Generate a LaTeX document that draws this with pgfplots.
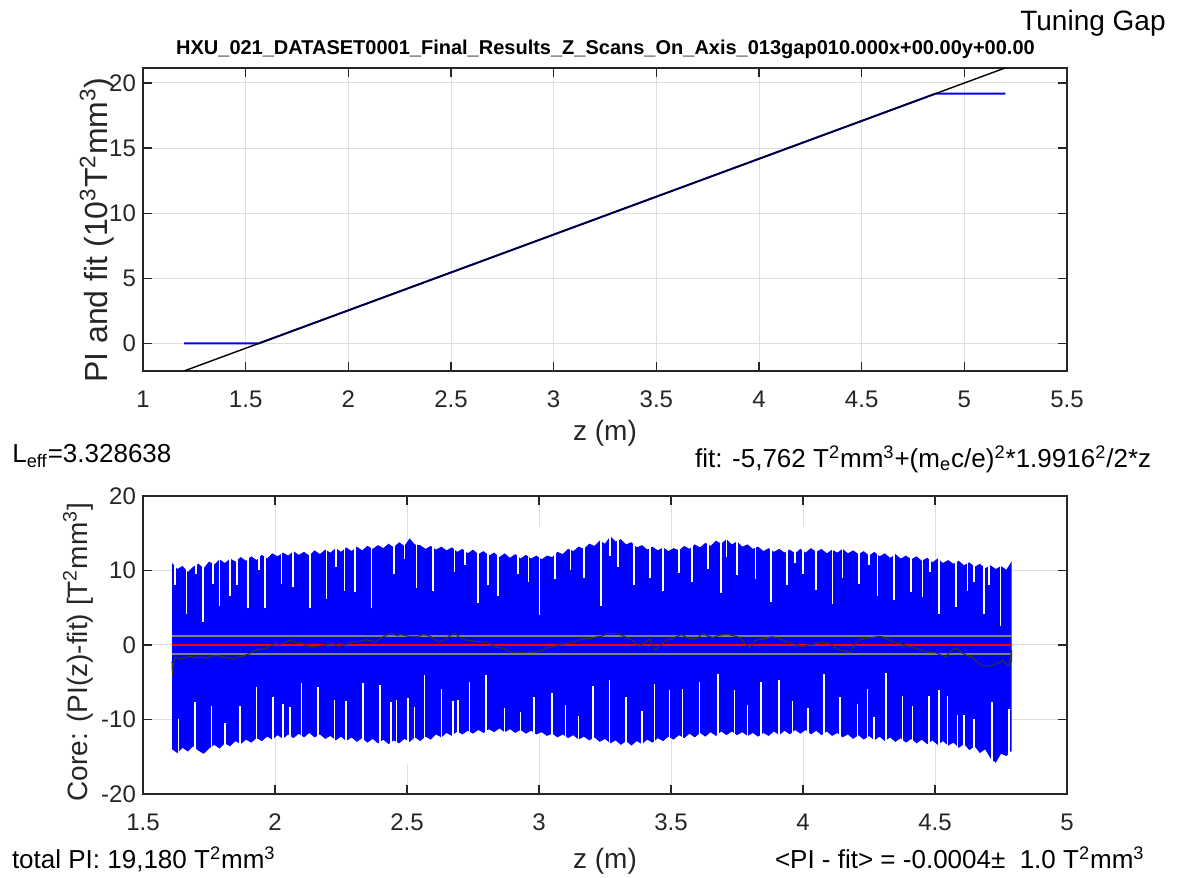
\documentclass[border=0pt]{standalone}
\usepackage{fontspec}
\setmainfont{Liberation Sans}
\usepackage{pgfplots}
\pgfplotsset{compat=1.18}
\usepackage{pgfplotstable}

\definecolor{axc}{RGB}{38,38,38}
\definecolor{gridc}{RGB}{223,223,223}
\definecolor{runc}{RGB}{50,50,50}
\definecolor{bandc}{RGB}{128,128,128}

\pgfplotstableread{
x y
1.61 11.0
1.63 10.2
1.65 10.6
1.67 9.8
1.69 10.5
1.71 10.9
1.73 10.3
1.75 11.2
1.77 10.8
1.79 11.5
1.81 11.0
1.83 11.6
1.85 11.2
1.87 11.8
1.89 11.3
1.91 11.9
1.93 11.4
1.95 12.1
1.97 11.6
1.99 12.3
2.01 11.9
2.03 12.4
2.05 12.0
2.07 12.6
2.09 12.1
2.11 12.5
2.13 12.0
2.15 12.7
2.17 12.2
2.19 12.8
2.21 12.4
2.23 13.0
2.25 12.5
2.27 13.1
2.29 12.6
2.31 13.2
2.33 12.7
2.35 13.3
2.37 12.9
2.39 13.4
2.41 13.0
2.43 13.6
2.45 13.1
2.47 13.8
2.49 13.3
2.51 14.3
2.53 13.5
2.55 13.4
2.57 12.9
2.59 13.3
2.61 12.8
2.63 13.2
2.65 12.7
2.67 13.1
2.69 12.5
2.71 12.9
2.73 12.3
2.75 12.8
2.77 12.2
2.79 12.6
2.81 12.0
2.83 12.4
2.85 11.8
2.87 12.3
2.89 11.7
2.91 12.2
2.93 11.6
2.95 12.1
2.97 11.6
2.99 12.0
3.01 11.5
3.03 12.0
3.05 11.8
3.07 12.5
3.09 12.2
3.11 12.9
3.13 12.6
3.15 13.2
3.17 12.9
3.19 13.6
3.21 13.3
3.23 14.0
3.25 13.6
3.27 14.6
3.29 13.9
3.31 14.2
3.33 13.5
3.35 13.8
3.37 13.1
3.39 13.4
3.41 12.8
3.43 13.2
3.45 12.7
3.47 13.1
3.49 12.6
3.51 13.0
3.53 12.7
3.55 13.3
3.57 12.9
3.59 13.5
3.61 13.1
3.63 13.7
3.65 13.3
3.67 14.0
3.69 13.6
3.71 14.2
3.73 13.5
3.75 13.9
3.77 13.2
3.79 13.5
3.81 12.9
3.83 13.2
3.85 12.6
3.87 13.0
3.89 12.5
3.91 12.9
3.93 12.4
3.95 12.8
3.97 12.3
3.99 12.9
4.01 12.4
4.03 13.0
4.05 12.5
4.07 12.9
4.09 12.3
4.11 12.8
4.13 12.4
4.15 12.9
4.17 12.3
4.19 12.7
4.21 12.2
4.23 12.6
4.25 12.0
4.27 12.5
4.29 11.9
4.31 12.3
4.33 11.7
4.35 12.2
4.37 11.6
4.39 12.0
4.41 11.5
4.43 11.9
4.45 11.3
4.47 11.7
4.49 11.1
4.51 11.6
4.53 11.0
4.55 11.4
4.57 10.9
4.59 11.3
4.61 10.7
4.63 11.1
4.65 10.5
4.67 10.9
4.69 10.3
4.71 10.7
4.73 10.2
4.75 10.6
4.77 10.1
4.79 11.2
4.79 -14.2
4.77 -14.9
4.75 -14.6
4.73 -15.8
4.71 -15.2
4.69 -14.0
4.67 -14.5
4.65 -13.6
4.63 -14.1
4.61 -13.3
4.59 -13.8
4.57 -13.1
4.55 -13.5
4.53 -12.9
4.51 -13.4
4.49 -12.8
4.47 -13.3
4.45 -12.7
4.43 -13.2
4.41 -12.6
4.39 -13.1
4.37 -12.5
4.35 -13.0
4.33 -12.4
4.31 -12.9
4.29 -12.3
4.27 -12.8
4.25 -12.2
4.23 -12.7
4.21 -12.1
4.19 -12.6
4.17 -12.0
4.15 -12.4
4.13 -11.8
4.11 -12.2
4.09 -11.6
4.07 -12.1
4.05 -11.5
4.03 -12.0
4.01 -11.4
3.99 -11.9
3.97 -11.4
3.95 -12.0
3.93 -11.5
3.91 -12.1
3.89 -11.6
3.87 -12.2
3.85 -11.8
3.83 -12.3
3.81 -11.8
3.79 -12.2
3.77 -11.7
3.75 -12.1
3.73 -11.6
3.71 -12.1
3.69 -11.6
3.67 -12.2
3.65 -11.7
3.63 -12.3
3.61 -11.8
3.59 -12.4
3.57 -11.9
3.55 -12.5
3.53 -12.1
3.51 -12.7
3.49 -12.3
3.47 -12.9
3.45 -12.5
3.43 -13.1
3.41 -12.7
3.39 -13.3
3.37 -12.9
3.35 -13.5
3.33 -12.9
3.31 -13.4
3.29 -12.8
3.27 -13.2
3.25 -12.6
3.23 -13.0
3.21 -12.4
3.19 -12.8
3.17 -12.3
3.15 -12.7
3.13 -12.1
3.11 -12.5
3.09 -12.0
3.07 -12.4
3.05 -11.9
3.03 -12.2
3.01 -11.7
2.99 -12.0
2.97 -11.5
2.95 -11.9
2.93 -11.4
2.91 -11.8
2.89 -11.3
2.87 -11.7
2.85 -11.2
2.83 -11.7
2.81 -11.3
2.79 -11.8
2.77 -11.4
2.75 -11.9
2.73 -11.5
2.71 -12.0
2.69 -11.6
2.67 -12.2
2.65 -11.8
2.63 -12.4
2.61 -12.0
2.59 -12.7
2.57 -12.3
2.55 -12.9
2.53 -12.4
2.51 -13.0
2.49 -12.6
2.47 -13.2
2.45 -12.8
2.43 -13.3
2.41 -12.7
2.39 -13.2
2.37 -12.6
2.35 -13.1
2.33 -12.5
2.31 -13.0
2.29 -12.4
2.27 -12.9
2.25 -12.3
2.23 -12.8
2.21 -12.2
2.19 -12.6
2.17 -12.0
2.15 -12.4
2.13 -11.8
2.11 -12.4
2.09 -11.9
2.07 -12.5
2.05 -12.0
2.03 -12.6
2.01 -12.1
1.99 -12.7
1.97 -12.3
1.95 -12.9
1.93 -12.5
1.91 -13.1
1.89 -12.7
1.87 -13.3
1.85 -12.9
1.83 -13.6
1.81 -13.2
1.79 -13.9
1.77 -13.4
1.75 -13.9
1.73 -14.6
1.71 -14.2
1.69 -13.6
1.67 -14.3
1.65 -13.8
1.63 -14.5
1.61 -14.0
}\envelope

\pgfplotstableread{
x y e
1.621 8.0 8.0
1.665 4.2 11.8
1.700 9.5 6.5
1.728 3.1 12.9
1.766 8.2 7.8
1.790 5.3 10.7
1.830 6.6 9.4
1.855 8.0 8.0
1.898 4.9 11.1
1.940 10.0 6.0
1.962 4.9 11.1
2.025 8.2 7.8
2.069 7.8 8.2
2.132 4.9 11.1
2.195 6.2 9.8
2.230 10.5 5.5
2.264 7.3 8.7
2.302 7.1 8.9
2.365 4.9 11.1
2.450 9.5 6.5
2.490 11.5 4.5
2.536 7.6 8.4
2.598 7.3 8.7
2.680 9.8 6.2
2.720 10.8 5.2
2.770 5.7 10.3
2.806 8.0 8.0
2.844 6.6 9.4
2.920 9.5 6.5
2.960 8.5 7.5
3.002 4.0 12.0
3.060 8.8 7.2
3.120 10.0 6.0
3.170 9.0 7.0
3.235 5.3 10.7
3.270 12.0 4.0
3.300 10.5 5.5
3.360 8.0 8.0
3.420 9.0 7.0
3.470 7.2 8.8
3.530 9.6 6.4
3.580 8.4 7.6
3.640 10.2 5.8
3.690 7.0 9.0
3.710 11.8 4.2
3.750 9.4 6.6
3.820 8.8 7.2
3.879 5.8 10.2
3.940 8.0 8.0
3.970 11.0 5.0
4.000 9.5 6.5
4.050 7.4 8.6
4.112 5.5 10.5
4.150 9.0 7.0
4.213 8.2 7.8
4.250 10.8 5.2
4.282 6.6 9.4
4.345 6.0 10.0
4.408 7.1 8.9
4.452 6.4 9.6
4.480 9.8 6.2
4.515 4.2 11.8
4.579 5.1 10.9
4.623 7.3 8.7
4.648 8.5 7.5
4.686 4.2 11.8
4.705 8.0 8.0
4.748 2.6 13.4
}\topnotch

\pgfplotstableread{
x y e
1.634 -9.9 6.1
1.697 -7.7 8.3
1.760 -8.2 7.8
1.810 -10.5 5.5
1.867 -8.2 7.8
1.930 -5.7 10.3
1.993 -7.0 9.0
2.030 -7.9 8.1
2.056 -8.3 7.7
2.100 -5.1 10.9
2.163 -5.7 10.3
2.226 -7.4 8.6
2.270 -7.5 8.5
2.333 -5.1 10.9
2.397 -5.4 10.6
2.440 -7.7 8.3
2.460 -7.4 8.6
2.504 -7.1 8.9
2.529 -8.3 7.7
2.567 -4.0 12.0
2.630 -5.9 10.1
2.674 -7.5 8.5
2.693 -7.4 8.6
2.737 -5.0 11.0
2.800 -4.0 12.0
2.870 -8.5 7.5
2.930 -9.0 7.0
2.980 -7.0 9.0
3.050 -6.5 9.5
3.100 -8.0 8.0
3.150 -9.5 6.5
3.204 -5.5 10.5
3.267 -4.7 11.3
3.330 -7.0 9.0
3.390 -8.8 7.2
3.437 -5.3 10.7
3.494 -6.0 10.0
3.544 -5.9 10.1
3.608 -5.0 11.0
3.677 -3.9 12.1
3.740 -6.0 10.0
3.790 -8.0 8.0
3.840 -5.0 11.0
3.910 -4.7 11.3
3.960 -7.5 8.5
4.020 -8.5 7.5
4.080 -3.9 12.1
4.140 -7.0 9.0
4.206 -7.9 8.1
4.244 -5.9 10.1
4.270 -9.6 6.4
4.314 -3.7 12.3
4.377 -6.9 9.1
4.415 -8.2 7.8
4.478 -6.9 9.1
4.515 -6.0 10.0
4.547 -6.9 9.1
4.585 -9.4 6.6
4.610 -9.4 6.6
4.648 -9.9 6.1
4.716 -7.7 8.3
4.780 -8.6 7.4
}\botnotch

\pgfplotstableread{
x y
1.610 -2.2
1.612 -4.1
1.616 -2.3
1.625 -1.6
1.64 -1.9
1.66 -1.7
1.68 -1.5
1.70 -1.7
1.72 -1.6
1.74 -1.8
1.76 -1.5
1.78 -1.4
1.80 -1.6
1.82 -1.7
1.84 -1.9
1.86 -1.6
1.88 -1.5
1.90 -1.2
1.92 -0.8
1.94 -0.6
1.96 -0.5
1.98 -0.2
2.00 0.2
2.02 0.1
2.04 0.4
2.06 0.7
2.08 0.3
2.10 0.3
2.12 -0.1
2.14 -0.3
2.16 -0.2
2.18 -0.1
2.20 0.1
2.22 0.2
2.24 -0.2
2.26 0.0
2.28 0.2
2.30 0.4
2.32 0.5
2.34 0.7
2.36 0.6
2.38 0.4
2.40 0.9
2.42 1.3
2.44 1.6
2.46 1.3
2.48 1.4
2.50 1.2
2.52 1.1
2.54 1.1
2.56 1.4
2.58 1.3
2.60 0.9
2.62 0.4
2.64 0.6
2.66 1.2
2.68 1.6
2.70 1.0
2.72 0.7
2.74 0.6
2.76 0.5
2.78 0.4
2.80 0.4
2.82 0.1
2.84 -0.3
2.86 -0.4
2.88 -0.7
2.90 -1.0
2.92 -0.9
2.94 -1.0
2.96 -0.9
2.98 -1.0
3.00 -0.8
3.02 -0.6
3.04 -0.3
3.06 -0.2
3.08 0.1
3.10 0.2
3.12 0.3
3.14 0.5
3.16 0.8
3.18 0.8
3.20 0.9
3.22 1.1
3.24 1.2
3.26 1.6
3.28 1.5
3.30 1.5
3.32 1.2
3.34 0.9
3.36 0.5
3.38 -0.2
3.40 0.3
3.42 0.8
3.44 -0.7
3.46 0.0
3.48 0.6
3.50 0.8
3.52 1.1
3.54 1.4
3.56 1.0
3.58 0.8
3.60 0.9
3.62 1.6
3.64 1.2
3.66 1.0
3.68 1.3
3.70 1.4
3.72 1.4
3.74 1.2
3.76 1.0
3.78 0.2
3.80 -0.3
3.82 0.6
3.84 0.8
3.86 0.9
3.88 1.1
3.90 1.0
3.92 0.7
3.94 0.4
3.96 0.2
3.98 -0.1
4.00 -0.2
4.02 0.0
4.04 0.1
4.06 0.3
4.08 0.4
4.10 0.2
4.12 -0.3
4.14 -0.7
4.16 -0.8
4.18 -1.0
4.20 0.3
4.22 0.8
4.24 0.9
4.26 1.0
4.28 1.1
4.30 1.1
4.32 0.8
4.34 0.4
4.36 0.3
4.38 0.0
4.40 -0.2
4.42 -0.4
4.44 -0.6
4.46 -0.8
4.48 -1.0
4.50 -1.0
4.52 -1.3
4.54 -1.6
4.56 -0.8
4.58 -0.4
4.60 -1.0
4.62 -1.4
4.64 -1.6
4.66 -2.3
4.68 -2.8
4.70 -2.8
4.72 -2.7
4.74 -2.4
4.755 -2.1
4.77 -2.5
4.78 -2.8
4.785 -2.0
4.79 -0.7
4.79 -2.3
}\running

\pgfplotsset{
  mstyle/.style={
    scale only axis,
    width=462pt,
    axis line style={axc, line width=0.6pt},
    tick style={axc, line width=0.6pt},
    tick align=inside,
    major tick length=4.5pt,
    grid=major,
    major grid style={gridc, line width=0.5pt},
    /pgf/number format/assume math mode=true,
    ticklabel style={font=\fontsize{12}{14}\selectfont, text=axc},
    xticklabel style={yshift=-6.5pt},
    label style={font=\fontsize{14}{16}\selectfont, text=axc},
  }
}

\begin{document}
\begin{tikzpicture}
\path[use as bounding box] (0,0) rectangle (590.5pt,438.5pt);

% ---------- top axis ----------
\begin{axis}[mstyle,
  at={(71.5pt,253pt)}, anchor=south west, height=151.5pt,
  xmin=1, xmax=5.5, ymin=-2.12, ymax=21.15,
  xtick={1,1.5,2,2.5,3,3.5,4,4.5,5,5.5},
  ytick={0,5,10,15,20},
  xlabel={z (m)},
  ylabel={PI and fit (10\textsuperscript{3}T\textsuperscript{2}mm\textsuperscript{3})},
  xlabel style={at={(axis description cs:0.5,0)}, anchor=base, yshift=-35pt},
  ylabel style={at={(axis description cs:-0.038,0.465)}, anchor=base, font=\fontsize{16}{18}\selectfont},
]
\addplot[blue, line width=1pt] coordinates {(1.2,0) (1.564,0) (4.86,19.18) (5.2,19.18)};
\addplot[black, line width=0.7pt] coordinates {(1.2,-2.118) (5.2,21.16)};
\end{axis}

% ---------- bottom axis ----------
\begin{axis}[mstyle,
  at={(71.5pt,41.5pt)}, anchor=south west, height=149pt,
  xmin=1.5, xmax=5, ymin=-20, ymax=20,
  xtick={1.5,2,2.5,3,3.5,4,4.5,5},
  ytick={-20,-10,0,10,20},
  xlabel={z (m)},
  ylabel={Core: (PI(z)-fit) [T\textsuperscript{2}mm\textsuperscript{3}]},
  xlabel style={at={(axis description cs:0.5,0)}, anchor=base, yshift=-37pt},
  ylabel style={at={(axis description cs:-0.0606,0.476)}, anchor=base},
]
\addplot[fill=blue, draw=none] table[x=x,y=y] {\envelope};
\addplot[draw=none, no markers, error bars/.cd, y dir=plus, y explicit, error mark=none,
  error bar style={draw=white, line width=0.8pt}] table[x=x,y=y,y error=e] {\topnotch};
\addplot[draw=none, no markers, error bars/.cd, y dir=minus, y explicit, error mark=none,
  error bar style={draw=white, line width=0.8pt}] table[x=x,y=y,y error=e] {\botnotch};
\addplot[bandc, line width=1pt] coordinates {(1.61,1.15) (4.79,1.15)};
\addplot[bandc, line width=1pt] coordinates {(1.61,-1.15) (4.79,-1.15)};
\addplot[red, line width=1pt] coordinates {(1.61,0) (4.79,0)};
\addplot[runc, line width=0.6pt] table[x=x,y=y] {\running};
\end{axis}

% ---------- free texts ----------
\tikzset{txt/.style={inner sep=0pt, text=black, font=\fontsize{13}{15}\selectfont}}
\node[txt, anchor=base east, font=\fontsize{14}{16}\selectfont] at (583pt,423pt) {Tuning Gap};
\node[txt, anchor=base, font=\bfseries\fontsize{10}{12}\selectfont] at (302.75pt,411pt)
  {HXU\_021\_DATASET0001\_Final\_Results\_Z\_Scans\_On\_Axis\_013gap010.000x+00.00y+00.00};
\node[txt, anchor=base west] at (6pt,207.3pt)
  {L\textsubscript{eff}=3.328638};
\node[txt, anchor=base east] at (575.8pt,204.85pt)
  {fit: -5,762 T\textsuperscript{2}mm\textsuperscript{3}+(m\textsubscript{e}c/e)\textsuperscript{2}*1.9916\textsuperscript{2}/2*z};
\node[txt, anchor=base west] at (5.8pt,4.35pt)
  {total PI: 19,180 T\textsuperscript{2}mm\textsuperscript{3}};
\node[txt, anchor=base east] at (572.5pt,4.35pt)
  {<PI - fit> = -0.0004±~~1.0 T\textsuperscript{2}mm\textsuperscript{3}};
\end{tikzpicture}
\end{document}
